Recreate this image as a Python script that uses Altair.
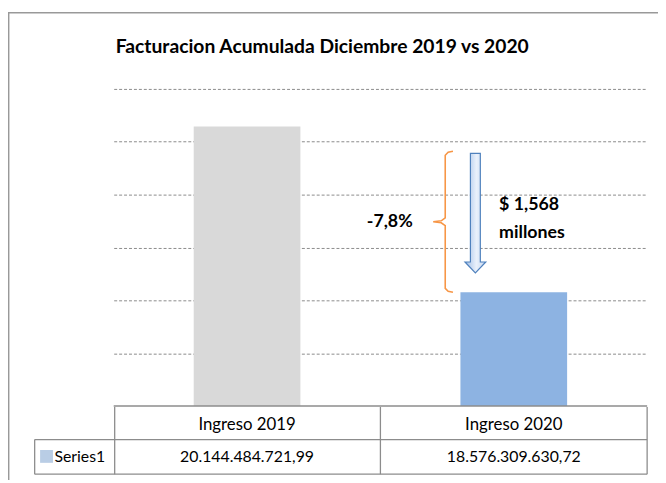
import altair as alt
import pandas as pd

# ---------------- data ----------------
categories = ["Ingreso 2019", "Ingreso 2020"]
values = [20144484721.99, 18576309630.72]
value_labels = ["20.144.484.721,99", "18.576.309.630,72"]
bar_colors = ["#d9d9d9", "#8db3e2"]
series_name = "Series1"
title_text = "Facturacion Acumulada Diciembre 2019 vs 2020"
pct_label = "-7,8%"
diff_lines = ["$ 1,568", "millones"]
y_domain = [17.5e9, 20.5e9]
grid_values = [18.0e9, 18.5e9, 19.0e9, 19.5e9, 20.0e9, 20.5e9]
brace_top = 19.91e9
arrow_top = 19.89e9
arrow_bottom = 18.76e9

# ---------------- layout / style ----------------
W, H = 540, 321
FONT = "Lato"
LINE = "#8c8c8c"
PX = (y_domain[1] - y_domain[0]) / H  # value per pixel

xband = alt.Scale(domain=categories, paddingInner=0.6, paddingOuter=0.3)
xq = alt.Scale(domain=[0, 2], nice=False, zero=False)
yscale = alt.Scale(domain=y_domain, nice=False, zero=False)
yaxis = alt.Axis(values=grid_values, grid=True, gridDash=[3, 2], gridColor="#8a8a8a",
                 gridWidth=1, labels=False, ticks=False, domain=False, title=None)

df = pd.DataFrame({"category": categories, "value": values, "label": value_labels})
one = pd.DataFrame({"a": [0]})

bars = alt.Chart(df).mark_bar().encode(
    x=alt.X("category:N", scale=xband, axis=None),
    y=alt.Y("value:Q", scale=yscale, axis=yaxis),
    y2=alt.datum(y_domain[0]),
    color=alt.Color("category:N", scale=alt.Scale(domain=categories, range=bar_colors), legend=None),
)

baseline = alt.Chart(one).mark_rule(color=LINE, strokeWidth=1.5).encode(
    y=alt.datum(y_domain[0]))


def rule(x1, x2, y1, y2, color=LINE, w=1.3):
    return alt.Chart(one).mark_rule(color=color, strokeWidth=w).encode(
        x=alt.value(x1), x2=alt.value(x2), y=alt.value(y1), y2=alt.value(y2))


table_rules = [
    rule(-80, W, 355, 355),
    rule(-80, W, 390, 390),
    rule(-80, -80, 355, 390),
    rule(1, 1, 322, 390),
    rule(W / 2, W / 2, 322, 390),
    rule(W, W, 322, 390),
    # chart frame
    rule(-107, W + 11, -77, -77, "#999999", 1.5),
    rule(-106.3, -106.3, -77, 396, "#999999", 1.5),
]

header = alt.Chart(df).mark_text(font=FONT, fontSize=17, baseline="middle", color="#000").encode(
    x=alt.X("category:N", scale=xband, axis=None), y=alt.value(340), text="category:N")
vals = alt.Chart(df).mark_text(font=FONT, fontSize=16, baseline="middle", color="#000").encode(
    x=alt.X("category:N", scale=xband, axis=None), y=alt.value(373), text="label:N")

legend_sq = alt.Chart(one).mark_square(size=169, color="#b9cde5", opacity=1).encode(
    x=alt.value(-68), y=alt.value(372))
series_txt = alt.Chart(pd.DataFrame({"t": [series_name]})).mark_text(
    font=FONT, fontSize=16, align="left", baseline="middle", color="#000").encode(
    x=alt.value(-60), y=alt.value(373), text="t:N")

title = alt.Chart(pd.DataFrame({"t": [title_text]})).mark_text(
    font=FONT, fontSize=19.5, fontWeight="bold", align="left", baseline="alphabetic", color="#000").encode(
    x=alt.value(2), y=alt.value(-36), text="t:N")

# brace between the 2019 level and the 2020 bar
mid = (brace_top + values[1]) / 2
bx = [1.272, 1.254, 1.243, 1.243, 1.228, 1.198, 1.228, 1.243, 1.243, 1.254, 1.272]
by = [brace_top, brace_top - 1 * PX, brace_top - 4 * PX, mid + 4 * PX, mid + 1 * PX, mid,
      mid - 1 * PX, mid - 4 * PX, values[1] + 4 * PX, values[1] + 1 * PX, values[1]]
brace = alt.Chart(pd.DataFrame({"bx": bx, "by": by, "i": list(range(len(bx)))})).mark_line(
    color="#f79646", strokeWidth=1.6).encode(
    x=alt.X("bx:Q", scale=xq, axis=None),
    y=alt.Y("by:Q", scale=yscale, axis=yaxis),
    order="i:O")

arrow_len = (arrow_top - arrow_bottom) / PX
arrow_path = ("M-0.083,-1 L0.083,-1 L0.083,0.818 L0.174,0.818 L0,1 "
              "L-0.174,0.818 L-0.083,0.818 Z")
arrow = alt.Chart(pd.DataFrame({"ax": [1.356], "ay": [(arrow_top + arrow_bottom) / 2]})).mark_point(
    shape=arrow_path, size=arrow_len ** 2, filled=True, opacity=1,
    fill={"gradient": "linear", "x1": 0, "x2": 1, "y1": 0, "y2": 0,
          "stops": [{"offset": 0, "color": "#9fbde6"},
                    {"offset": 0.55, "color": "#eaf1fb"},
                    {"offset": 1, "color": "#c3d6f0"}]},
    stroke="#4f81bd", strokeWidth=1.2).encode(
    x=alt.X("ax:Q", scale=xq, axis=None),
    y=alt.Y("ay:Q", scale=yscale, axis=yaxis))

pct = alt.Chart(pd.DataFrame({"px": [1.035], "py": [mid], "t": [pct_label]})).mark_text(
    font=FONT, fontSize=18, fontWeight="bold", baseline="middle", color="#000").encode(
    x=alt.X("px:Q", scale=xq, axis=None),
    y=alt.Y("py:Q", scale=yscale, axis=yaxis), text="t:N")

diff = alt.Chart(pd.DataFrame({"px": [1.445, 1.445], "py": [mid + 16.5 * PX, mid - 11.5 * PX],
                               "t": diff_lines})).mark_text(
    font=FONT, fontSize=18, fontWeight="bold", align="left", baseline="middle", color="#000").encode(
    x=alt.X("px:Q", scale=xq, axis=None),
    y=alt.Y("py:Q", scale=yscale, axis=yaxis), text="t:N")

chart = alt.layer(
    bars, baseline, *table_rules, header, vals, legend_sq, series_txt, title,
    brace, arrow, pct, diff
).resolve_scale(x="independent").properties(
    width=W, height=H,
    padding={"left": 107, "top": 79, "right": 11, "bottom": 75},
    autosize=alt.AutoSizeParams(type="none"),
).configure_view(stroke=None)

chart.save("out.html", embed_options={"renderer": "svg", "actions": False})
